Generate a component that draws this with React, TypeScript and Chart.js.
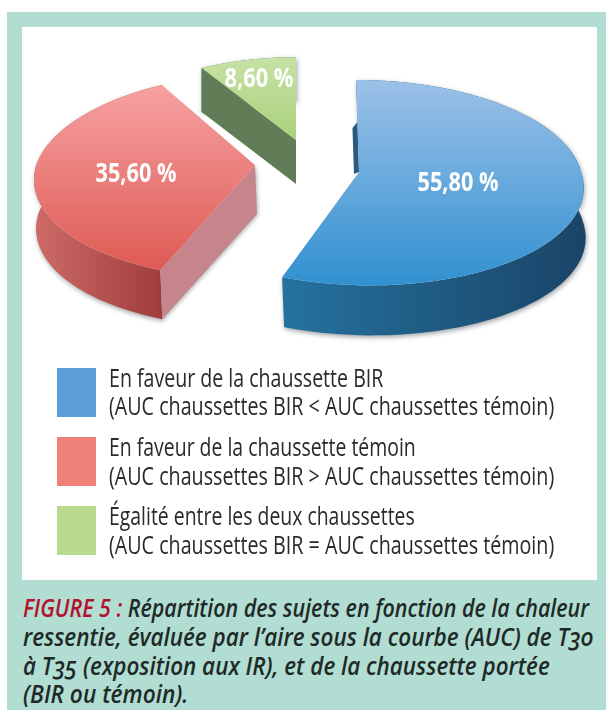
import React, { useEffect, useLayoutEffect, useRef } from "react";
import { Chart, registerables } from "chart.js";

Chart.register(...registerables);

const categories = ["En faveur de la chaussette BIR", "En faveur de la chaussette témoin", "Égalité entre les deux chaussettes"];
const shareValues = [55.8, 35.6, 8.6];
const shareLabels = ["55,80 %", "35,60 %", "8,60 %"];
const comparisonLines = [
  "(AUC chaussettes BIR < AUC chaussettes témoin)",
  "(AUC chaussettes BIR > AUC chaussettes témoin)",
  "(AUC chaussettes BIR = AUC chaussettes témoin)",
];
const captionLead = "FIGURE 5 : ";
const captionLines = [
  "Répartition des sujets en fonction de la chaleur",
  "ressentie, évaluée par l’aire sous la courbe (AUC) de T30",
  "à T35 (exposition aux IR), et de la chaussette portée",
  "(BIR ou témoin).",
];

const TEAL = "#B1DDD2";
const FONT = '"Open Sans", sans-serif';
const swatchColors = ["#5C9FD8", "#EF8079", "#B9D98C"];

const RX = 222;
const RY = 101.6;
const K = 0.104;

const sliceStyles = [
  { ax: 359, ay: 172, f: 1, fx: 1, shearBack: -3, shearFront: -11.5, depth: 50, top: ["#9CC1E8", "#3090D0"], topY: [80, 287], wall: ["#25729F", "#1A4568"], wallX: [282, 581], cut: "#2B5A80", label: [458, 183], labelW: 81 },
  { ax: 255, ay: 165, f: 1, fx: 0.985, shearBack: 12, shearFront: 9, depth: 49, top: ["#F6A0A0", "#DE5953"], topY: [89, 273], wall: ["#CC6A66", "#A03D3D"], wallX: [37, 162], cut: "#C5858A", label: [136, 174], labelW: 81 },
  { ax: 296, ay: 140, f: 0.9, fx: 1, shearBack: 0, shearFront: 0, depth: 44, top: ["#C6E1A5", "#AAD27C"], topY: [58, 140], wall: ["#617D58", "#617D58"], wallX: [200, 297], cut: "#617D58", label: [259, 79], labelW: 69 },
];

type Pt = [number, number];

function project(style: (typeof sliceStyles)[number], theta: number, frac: number): Pt {
  const u = Math.sin(theta) * style.f * style.fx * frac;
  const v = Math.cos(theta) * frac;
  const w = 1 + K * v;
  const shear = v >= 0 ? style.shearBack : style.shearFront;
  return [style.ax + (RX * u) / w + shear * v, style.ay - (RY * v * style.f) / w];
}

function tracePoly(ctx: CanvasRenderingContext2D, pts: Pt[]) {
  ctx.beginPath();
  pts.forEach((p, i) => (i ? ctx.lineTo(p[0], p[1]) : ctx.moveTo(p[0], p[1])));
  ctx.closePath();
}

const pie3d = {
  id: "pie3d",
  beforeDatasetsDraw(chart: any) {
    const ctx: CanvasRenderingContext2D = chart.ctx;
    const arcs = chart.getDatasetMeta(0).data;
    arcs.forEach((arc: any, i: number) => {
      const st = sliceStyles[i];
      const { startAngle, endAngle } = arc.getProps(["startAngle", "endAngle"]);
      const t0 = startAngle + Math.PI / 2;
      const t1 = endAngle + Math.PI / 2;
      const rim: Pt[] = [];
      const steps = 90;
      for (let s = 0; s <= steps; s++) rim.push(project(st, t0 + ((t1 - t0) * s) / steps, 1));
      const down = (p: Pt): Pt => [p[0] + (i === 2 ? 0 : 2), p[1] + st.depth];
      const apex: Pt = [st.ax, st.ay];

      ctx.save();
      ctx.shadowColor = "rgba(40,50,60,0.45)";
      ctx.shadowBlur = 5;
      ctx.shadowOffsetX = 1;
      ctx.shadowOffsetY = 2;
      const wg = ctx.createLinearGradient(st.wallX[0], 0, st.wallX[1], 0);
      wg.addColorStop(0, st.wall[0]);
      wg.addColorStop(1, st.wall[1]);
      ctx.fillStyle = wg;
      tracePoly(ctx, [...rim, ...rim.slice().reverse().map(down)]);
      ctx.fill();
      ctx.restore();

      ctx.fillStyle = st.cut;
      if (i === 0) {
        const mid = project(st, t0, 0.52);
        tracePoly(ctx, [apex, mid, [mid[0] - 5, mid[1] + 6], [apex[0] - 5, apex[1] + 2]]);
        ctx.fill();
      }
      if (i === 1) {
        const tip = rim[0];
        tracePoly(ctx, [apex, tip, down(tip), down(apex)]);
        ctx.save();
        ctx.shadowColor = "rgba(40,50,60,0.4)";
        ctx.shadowBlur = 4;
        ctx.shadowOffsetX = 1;
        ctx.shadowOffsetY = 1;
        ctx.fill();
        ctx.restore();
      }
      if (i === 2) {
        const corner = rim[0];
        tracePoly(ctx, [apex, corner, down(corner), down(apex)]);
        ctx.fill();
      }

      const tg = ctx.createLinearGradient(0, st.topY[0], 0, st.topY[1]);
      tg.addColorStop(0, st.top[0]);
      tg.addColorStop(1, st.top[1]);
      ctx.fillStyle = tg;
      tracePoly(ctx, [apex, ...rim]);
      ctx.fill();
    });

    ctx.fillStyle = "#FFFFFF";
    ctx.font = `700 27px ${FONT}`;
    ctx.textAlign = "left";
    ctx.textBaseline = "middle";
    shareLabels.forEach((text, i) => {
      const st = sliceStyles[i];
      const w = ctx.measureText(text).width;
      const k = st.labelW / w;
      ctx.save();
      ctx.translate(st.label[0] - st.labelW / 2, st.label[1]);
      ctx.scale(k, 1);
      ctx.fillText(text, 0, 0);
      ctx.restore();
    });
    return false;
  },
};

function Line({ left, y, width, size, style, children }: any) {
  const ref = useRef<HTMLSpanElement>(null);
  useLayoutEffect(() => {
    const el = ref.current!;
    const fit = () => {
      el.style.transform = `translateY(-50%) scaleX(${width / el.offsetWidth})`;
    };
    fit();
    (document as any).fonts?.ready?.then(fit);
  }, [width]);
  return (
    <span
      ref={ref}
      style={{
        position: "absolute",
        left,
        top: y,
        fontSize: size,
        lineHeight: 1,
        whiteSpace: "nowrap",
        transformOrigin: "left center",
        fontFamily: FONT,
        ...style,
      }}
    >
      {children}
    </span>
  );
}

function withOldStyleNumerals(text: string) {
  return text.split(/(T\d+)/).map((part, i) =>
    /^T\d+$/.test(part) ? (
      <span key={i} style={{ fontFeatureSettings: '"onum"' }}>{part}</span>
    ) : (
      part
    ),
  );
}

const legendGeometry = [
  { swatchY: 368, y1: 377, y2: 405, w1: 274 },
  { swatchY: 437, y1: 446, y2: 475, w1: 307 },
  { swatchY: 506, y1: 515, y2: 544, w1: 306 },
];
const captionGeometry = [
  { y: 607, w: 566 },
  { y: 636, w: 570 },
  { y: 665, w: 527 },
  { y: 693, w: 165 },
];

export default function App() {
  const canvasRef = useRef<HTMLCanvasElement>(null);
  useEffect(() => {
    document.body.style.margin = "0";
    const chart = new Chart(canvasRef.current!, {
      type: "pie",
      data: {
        labels: categories,
        datasets: [{ data: shareValues, backgroundColor: swatchColors, borderWidth: 0 }],
      },
      options: {
        responsive: false,
        animation: false,
        events: [],
        plugins: { legend: { display: false }, tooltip: { enabled: false } },
      },
      plugins: [pie3d],
    } as any);
    return () => chart.destroy();
  }, []);

  return (
    <div style={{ position: "absolute", left: 0, top: 0, width: 606, height: 710, overflow: "hidden", background: "#fff" }}>
      <div style={{ position: "absolute", left: 7, top: 12, width: 599, height: 698, background: TEAL }} />
      <div style={{ position: "absolute", left: 22, top: 27, width: 575, height: 553, background: "#fff" }} />
      <canvas ref={canvasRef} width={606} height={360} style={{ position: "absolute", left: 0, top: 0, width: 606, height: 360 }} />
      {categories.map((c, i) => {
        const g = legendGeometry[i];
        return (
          <React.Fragment key={c}>
            <div style={{ position: "absolute", left: 57, top: g.swatchY, width: 39, height: 49, background: swatchColors[i] }} />
            <Line left={109} y={g.y1} width={g.w1} size={25} style={{ color: "#2A2A2A" }}>{c}</Line>
            <Line left={109} y={g.y2} width={445} size={25} style={{ color: "#2A2A2A" }}>{comparisonLines[i]}</Line>
          </React.Fragment>
        );
      })}
      {captionLines.map((t, i) => (
        <Line key={t} left={23} y={captionGeometry[i].y} width={captionGeometry[i].w} size={25} style={{ color: "#1F2A28", fontWeight: 600, fontStyle: "italic" }}>
          {i === 0 ? <span style={{ color: "#B4122C" }}>{captionLead}</span> : null}
          {withOldStyleNumerals(t)}
        </Line>
      ))}
    </div>
  );
}
